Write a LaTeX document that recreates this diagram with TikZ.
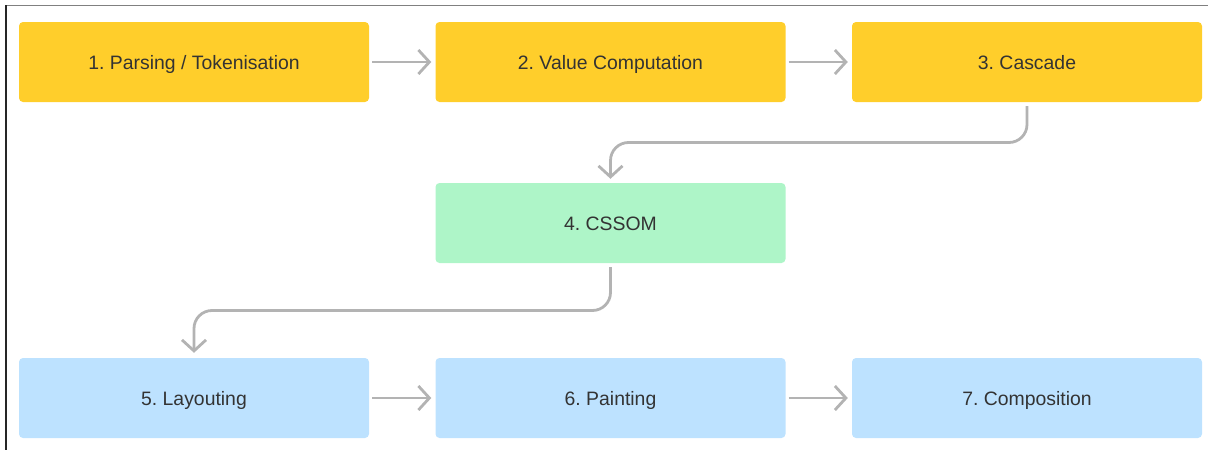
\documentclass[tikz,border=0pt]{standalone}
\usepackage{fontspec}
\setmainfont{Liberation Sans}
\usetikzlibrary{arrows.meta,calc}
\definecolor{stageyellow}{HTML}{FFCE2B}
\definecolor{stagegreen}{HTML}{AEF5C8}
\definecolor{stageblue}{HTML}{BDE2FF}
\definecolor{linkgray}{HTML}{B3B3B3}
\definecolor{labelgray}{HTML}{333333}
\tikzset{
  stagebox/.style={rounded corners=4pt, minimum width=350pt, minimum height=80pt,
    inner sep=0pt, text height=14pt, text depth=0pt, text=labelgray,
    font=\fontsize{19.4}{23}\selectfont},
  yellowbox/.style={stagebox, fill=stageyellow},
  greenbox/.style={stagebox, fill=stagegreen},
  bluebox/.style={stagebox, fill=stageblue},
  link/.style={draw=linkgray, line width=2.8pt, rounded corners=18pt,
    -{Straight Barb[length=11pt,width=24pt]}}
}
\begin{document}
\begin{tikzpicture}[x=1pt,y=-1pt]
  \useasboundingbox (0,0) rectangle (1208,450);
  % frame edges
  \draw[draw=gray, line width=1.6pt] (6,5.5) -- (1208,5.5);
  \draw[draw=black!85, line width=1.2pt] (6,5) -- (6,450);

  % stages
  \node[yellowbox] (s1) at (194,62)    {1.\ Parsing / Tokenisation};
  \node[yellowbox] (s2) at (610.5,62)  {2.\ Value Computation};
  \node[yellowbox] (s3) at (1027,62)   {3.\ Cascade};
  \node[greenbox]  (s4) at (610.5,223) {4.\ CSSOM};
  \node[bluebox]   (s5) at (194,398)   {5.\ Layouting};
  \node[bluebox]   (s6) at (610.5,398) {6.\ Painting};
  \node[bluebox]   (s7) at (1027,398)  {7.\ Composition};

  % connectors
  \draw[link] ([xshift=3pt]s1.east) -- ([xshift=-4pt]s2.west);
  \draw[link] ([xshift=3pt]s2.east) -- ([xshift=-4pt]s3.west);
  \draw[link] ([yshift=-4pt]s3.south) |- ($(s3.south)!.5!(s4.north)$) -| ([yshift=4pt]s4.north);
  \draw[link] ([yshift=-4pt]s4.south) |- ($(s4.south)!.5!(s5.north)$) -| ([yshift=5pt]s5.north);
  \draw[link] ([xshift=3pt]s5.east) -- ([xshift=-4pt]s6.west);
  \draw[link] ([xshift=3pt]s6.east) -- ([xshift=-4pt]s7.west);
\end{tikzpicture}
\end{document}
